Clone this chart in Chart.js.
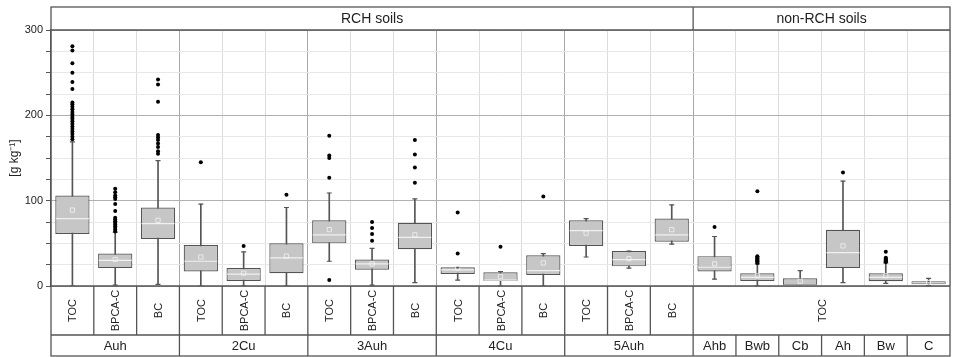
<!DOCTYPE html>
<html lang="en">
<head>
    <meta charset="UTF-8" />
    <title>Carbon fractions by horizon</title>
    <script src="https://cdn.jsdelivr.net/npm/chart.js"></script>
    <style>
        body { margin: 0; background: #fff; }
        #box { width: 953px; height: 357px; }
    </style>
</head>
<body>
    <div id="box"><canvas id="soilChart" width="953" height="357"></canvas></div>

    <script>
        // table labels
        const soilTypes = ["RCH soils", "non-RCH soils"];
        const soilTypeSpan = [15, 6];
        const horizons = ["Auh", "2Cu", "3Auh", "4Cu", "5Auh", "Ahb", "Bwb", "Cb", "Ah", "Bw", "C"];
        const horizonSpan = [3, 3, 3, 3, 3, 1, 1, 1, 1, 1, 1];
        const fractionLabels = ["TOC", "BPCA-C", "BC", "TOC", "BPCA-C", "BC", "TOC", "BPCA-C", "BC",
            "TOC", "BPCA-C", "BC", "TOC", "BPCA-C", "BC", "TOC"];
        const fractionSpan = [1, 1, 1, 1, 1, 1, 1, 1, 1, 1, 1, 1, 1, 1, 1, 6];

        // one entry per box (21)
        const categories = ["Auh TOC", "Auh BPCA-C", "Auh BC", "2Cu TOC", "2Cu BPCA-C", "2Cu BC",
            "3Auh TOC", "3Auh BPCA-C", "3Auh BC", "4Cu TOC", "4Cu BPCA-C", "4Cu BC",
            "5Auh TOC", "5Auh BPCA-C", "5Auh BC", "Ahb TOC", "Bwb TOC", "Cb TOC", "Ah TOC", "Bw TOC", "C TOC"];
        const whiskerLow  = [0, 1, 2, 0, 0, 0, 29, 1, 4, 7, 0, 0, 34, 21, 49, 8, 0, 0, 4, 3, 0.5];
        const q1          = [61, 21, 55, 17, 6, 15, 50, 19, 43, 14, 6, 13, 47, 23, 52, 17, 6, 1, 21, 5.5, 2];
        const median      = [79, 30, 73, 29, 14, 33, 60, 26, 57, 19, 7, 18, 65, 31, 60, 22, 10, 1, 39, 10, 3.5];
        const mean        = [89, 31, 77, 34, 15, 35, 66, 26, 60, 21, 11, 27, 62, 32, 66, 26, 12, 5.5, 47, 12, 4];
        const q3          = [106, 38, 92, 48, 21, 50, 77, 31, 74, 22, 16, 36, 77, 41, 79, 35, 15, 9, 66, 15, 5.5];
        const whiskerHigh = [169, 63, 147, 96, 40, 92, 109, 44, 102, 22, 17, 38, 79, 41, 95, 58, 26, 18, 123, 27, 9];
        const outliers = [
            [281, 276, 261, 250, 239, 231, 215, 213, 210, 207, 204, 201, 198, 196, 193, 190, 187, 184, 181, 178, 175, 172],
            [114, 110, 106, 104, 102, 96, 88, 80, 78, 76, 74, 72, 70, 68, 66, 64],
            [242, 236, 216, 177, 174, 171, 167, 163, 158, 155],
            [145], [47], [107],
            [176, 153, 150, 127, 7], [75, 68, 61, 53], [171, 154, 139, 121],
            [86, 38], [46], [105],
            [], [], [],
            [69], [111, 35, 34, 33, 32, 31, 30, 29, 28, 27], [], [133], [40, 33, 32, 31, 30, 29, 28], []
        ];

        const yTicks = [0, 100, 200, 300];

        const FONT = "'Liberation Sans', Arial, sans-serif";
        const FRAME = "#555";

        // header and category table drawn round the plot area
        const framePlugin = {
            id: "frame",
            afterDraw(chart) {
                const ctx = chart.ctx;
                const area = chart.chartArea;
                const x = chart.scales.x;
                const cw = x.getPixelForValue(1) - x.getPixelForValue(0);
                const edge = i => x.getPixelForValue(0) - cw / 2 + i * cw;

                const headTop = 7;
                const row1 = area.bottom + 49;
                const row2 = 356;

                ctx.save();
                ctx.strokeStyle = FRAME;
                ctx.lineWidth = 1.3;
                ctx.fillStyle = "#222";
                ctx.textBaseline = "middle";
                ctx.textAlign = "center";

                // outer frame
                ctx.strokeRect(area.left, headTop, area.right - area.left, row2 - headTop);
                [area.top, area.bottom, row1].forEach(y => {
                    ctx.beginPath();
                    ctx.moveTo(area.left, y);
                    ctx.lineTo(area.right, y);
                    ctx.stroke();
                });

                // header
                ctx.font = "14px " + FONT;
                let start = 0;
                soilTypes.forEach((t, k) => {
                    const end = start + soilTypeSpan[k];
                    if (start > 0) {
                        ctx.beginPath();
                        ctx.moveTo(edge(start), headTop);
                        ctx.lineTo(edge(start), area.top);
                        ctx.stroke();
                    }
                    ctx.fillText(t, (edge(start) + edge(end)) / 2, (headTop + area.top) / 2 + 1);
                    start = end;
                });

                // row 1 : fractions, rotated
                ctx.font = "11px " + FONT;
                start = 0;
                fractionLabels.forEach((t, k) => {
                    const end = start + fractionSpan[k];
                    if (start > 0) {
                        ctx.beginPath();
                        ctx.moveTo(edge(start), area.bottom);
                        ctx.lineTo(edge(start), row1);
                        ctx.stroke();
                    }
                    ctx.save();
                    ctx.translate((edge(start) + edge(end)) / 2, (area.bottom + row1) / 2);
                    ctx.rotate(-Math.PI / 2);
                    ctx.fillText(t, 0, 1);
                    ctx.restore();
                    start = end;
                });

                // row 2 : horizons
                ctx.font = "13px " + FONT;
                start = 0;
                horizons.forEach((t, k) => {
                    const end = start + horizonSpan[k];
                    if (start > 0) {
                        ctx.beginPath();
                        ctx.moveTo(edge(start), row1);
                        ctx.lineTo(edge(start), row2);
                        ctx.stroke();
                    }
                    ctx.fillText(t, (edge(start) + edge(end)) / 2, (row1 + row2) / 2 + 1);
                    start = end;
                });
                ctx.restore();
            }
        };

        function pointsAt(values) {
            return values.map((v, i) => ({ x: categories[i], y: v }));
        }

        const capPoints = pointsAt(whiskerLow).concat(pointsAt(whiskerHigh));
        const outlierPoints = [];
        outliers.forEach((list, i) => list.forEach(v => outlierPoints.push({ x: categories[i], y: v })));

        const groupEdges = [3, 6, 9, 12, 15];

        new Chart(document.getElementById("soilChart"), {
            type: "bar",
            data: {
                labels: categories,
                datasets: [
                    {
                        // whiskers
                        data: whiskerLow.map((v, i) => [v, whiskerHigh[i]]),
                        backgroundColor: "#555",
                        borderWidth: 0,
                        barThickness: 1,
                        grouped: false,
                        order: 5
                    },
                    {
                        type: "line",
                        data: capPoints,
                        showLine: false,
                        pointStyle: "line",
                        pointRadius: 2.5,
                        pointHoverRadius: 2.5,
                        borderColor: "#555",
                        pointBorderWidth: 1.2,
                        order: 4
                    },
                    {
                        // boxes
                        data: q1.map((v, i) => [v, q3[i]]),
                        backgroundColor: "#c6c6c6",
                        borderColor: "#545454",
                        borderWidth: 1.2,
                        borderSkipped: false,
                        barPercentage: 0.8,
                        categoryPercentage: 1,
                        grouped: false,
                        order: 3
                    },
                    {
                        type: "line",
                        data: pointsAt(median),
                        showLine: false,
                        pointStyle: "line",
                        pointRadius: 16.5,
                        pointHoverRadius: 16.5,
                        borderColor: "#f0f0f0",
                        pointBorderWidth: 1.2,
                        order: 2
                    },
                    {
                        type: "line",
                        data: pointsAt(mean),
                        showLine: false,
                        pointStyle: "rect",
                        pointRadius: 3,
                        pointHoverRadius: 3,
                        borderColor: "#f4f4f4",
                        backgroundColor: "rgba(0,0,0,0)",
                        pointBorderWidth: 0.8,
                        order: 1
                    },
                    {
                        type: "line",
                        data: outlierPoints,
                        showLine: false,
                        pointStyle: "circle",
                        pointRadius: 2,
                        pointHoverRadius: 2,
                        backgroundColor: "#000",
                        borderColor: "#000",
                        pointBorderWidth: 0,
                        order: 0
                    }
                ]
            },
            options: {
                responsive: false,
                animation: false,
                layout: { autoPadding: false, padding: { top: 30, right: 3, bottom: 71, left: 0 } },
                plugins: {
                    legend: { display: false },
                    tooltip: { enabled: false }
                },
                scales: {
                    x: {
                        offset: true,
                        ticks: { display: false },
                        grid: {
                            offset: true,
                            drawTicks: false,
                            color: c => groupEdges.includes(c.index) ? "#a8a8a8" : "#dcdcdc"
                        },
                        border: { display: false },
                        afterFit: s => { s.height = 0; }
                    },
                    y: {
                        min: 0,
                        max: 300,
                        afterBuildTicks: s => {
                            const t = [];
                            for (let v = 0; v <= 300; v += 25) t.push({ value: v });
                            s.ticks = t;
                        },
                        ticks: {
                            padding: 3,
                            color: "#222",
                            font: { family: FONT, size: 11 },
                            callback: v => yTicks.includes(v) ? v : ""
                        },
                        grid: {
                            tickLength: 5,
                            color: c => c.tick && c.tick.value % 100 === 0 ? "#b0b0b0" : "#e8e8e8",
                            tickColor: "#555"
                        },
                        border: { color: FRAME, width: 1.3 },
                        title: {
                            display: true,
                            text: "[g kg\u207B\u00B9]",
                            color: "#222",
                            font: { family: FONT, size: 12 },
                            padding: { top: 7, bottom: 0 }
                        },
                        afterFit: s => { s.width = 51; }
                    }
                }
            },
            plugins: [framePlugin]
        });
    </script>
</body>
</html>
